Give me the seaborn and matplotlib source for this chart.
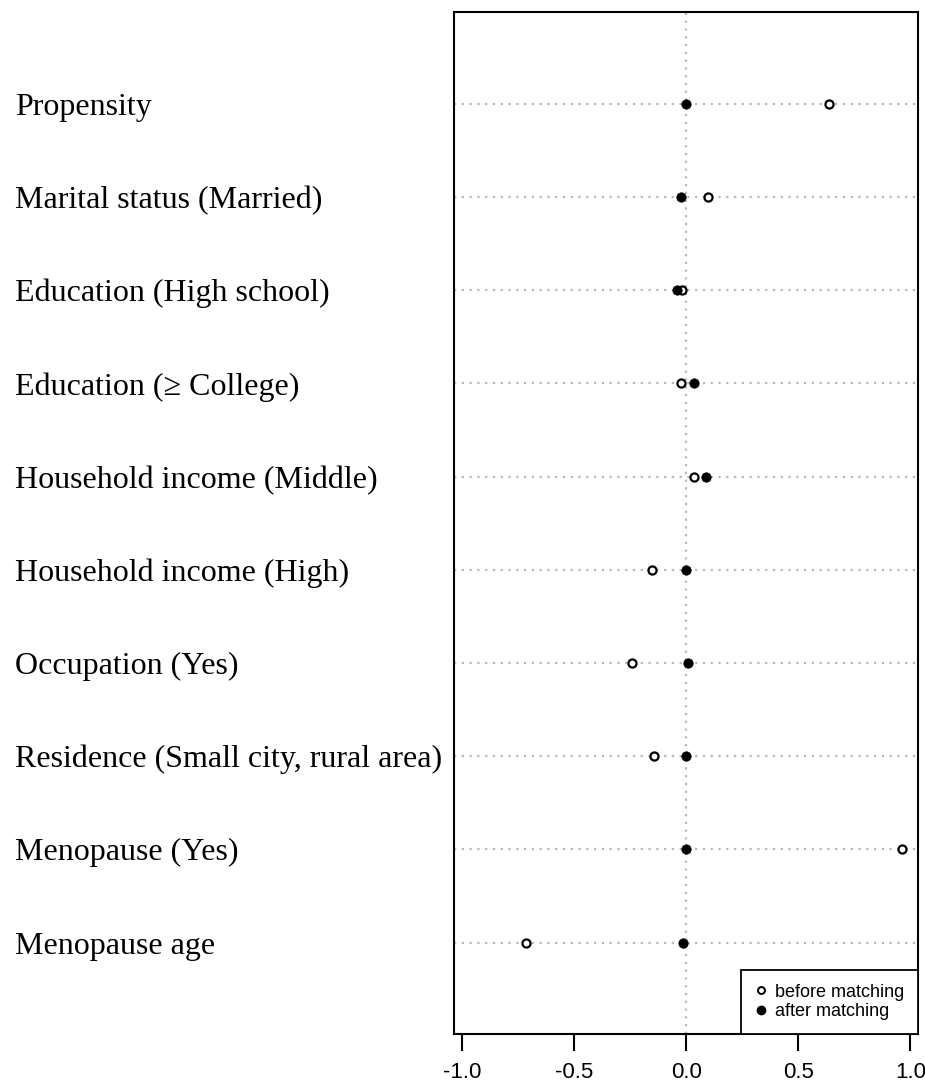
import matplotlib
matplotlib.use("Agg")
import matplotlib.pyplot as plt
import seaborn as sns
import pandas as pd
from matplotlib.lines import Line2D

categories = [
    "Propensity",
    "Marital status (Married)",
    "Education (High school)",
    "Education (\u2265 College)",
    "Household income (Middle)",
    "Household income (High)",
    "Occupation (Yes)",
    "Residence (Small city, rural area)",
    "Menopause (Yes)",
    "Menopause age",
]
before_matching = [0.638, 0.097, -0.019, -0.025, 0.033, -0.153, -0.243, -0.144, 0.961, -0.717]
after_matching = [0.000, -0.025, -0.042, 0.034, 0.089, 0.000, 0.007, 0.000, 0.000, -0.015]
xticks = [-1.0, -0.5, 0.0, 0.5, 1.0]
xtick_labels = ["-1.0", "-0.5", "0.0", "0.5", "1.0"]

df_before = pd.DataFrame({"variable": categories, "value": before_matching})
df_after = pd.DataFrame({"variable": categories, "value": after_matching})

sns.set_theme(style="white")
plt.rcParams["font.family"] = ["Liberation Sans", "DejaVu Sans"]
plt.rcParams["text.color"] = "black"
plt.rcParams["xtick.color"] = "black"
plt.rcParams["ytick.color"] = "black"
plt.rcParams["axes.labelcolor"] = "black"

fig = plt.figure(figsize=(9.25, 10.88), dpi=100)
ax = fig.add_axes([454 / 925, 1 - 1034 / 1088, (918 - 454) / 925, (1034 - 12) / 1088])

grid_kw = dict(color="#b8b8b8", linestyle=(0, (1, 2.5)), linewidth=1.6, zorder=0)
for c in categories:
    ax.axhline(c, **grid_kw)
ax.axvline(0, **grid_kw)

sns.scatterplot(data=df_before, x="value", y="variable", ax=ax, marker="o",
                s=34, facecolor="white", edgecolor="black", linewidth=1.6, zorder=3, legend=False)
sns.scatterplot(data=df_after, x="value", y="variable", ax=ax, marker="o",
                s=46, color="black", edgecolor="black", linewidth=0.5, zorder=4, legend=False)

ax.set_xlim(-1.036, 1.034)
ax.set_ylim(9.98, -0.984)
ax.set_xlabel("")
ax.set_ylabel("")
ax.set_xticks(xticks)
ax.set_xticklabels(xtick_labels, fontsize=16, family=["Liberation Sans", "DejaVu Sans"], color="black")
ax.tick_params(axis="x", direction="out", length=12, width=1.5, color="black", pad=8, bottom=True)
ax.tick_params(axis="y", length=0, pad=316)
for lab in ax.get_yticklabels():
    lab.set_ha("left")
    lab.set_fontsize(23)
    lab.set_color("black")
    lab.set_family(["Liberation Serif", "DejaVu Serif"])

for sp in ax.spines.values():
    sp.set_visible(True)
    sp.set_color("black")
    sp.set_linewidth(1.5)

handles = [
    Line2D([], [], linestyle="none", marker="o", markersize=5, markerfacecolor="white",
           markeredgecolor="black", markeredgewidth=1.4, label="before matching"),
    Line2D([], [], linestyle="none", marker="o", markersize=6, markerfacecolor="black",
           markeredgecolor="black", label="after matching"),
]
leg = ax.legend(handles=handles, loc="lower right", borderaxespad=0, frameon=True,
                fancybox=False, prop={"family": ["Liberation Sans", "DejaVu Sans"], "size": 13},
                handlelength=0.7, handletextpad=0.45, labelspacing=0.15, borderpad=0.75)
leg.get_frame().set_edgecolor("black")
leg.get_frame().set_linewidth(1.3)
leg.get_frame().set_alpha(1)
for t in leg.get_texts():
    t.set_color("black")

fig.savefig("out.png", dpi=100)
